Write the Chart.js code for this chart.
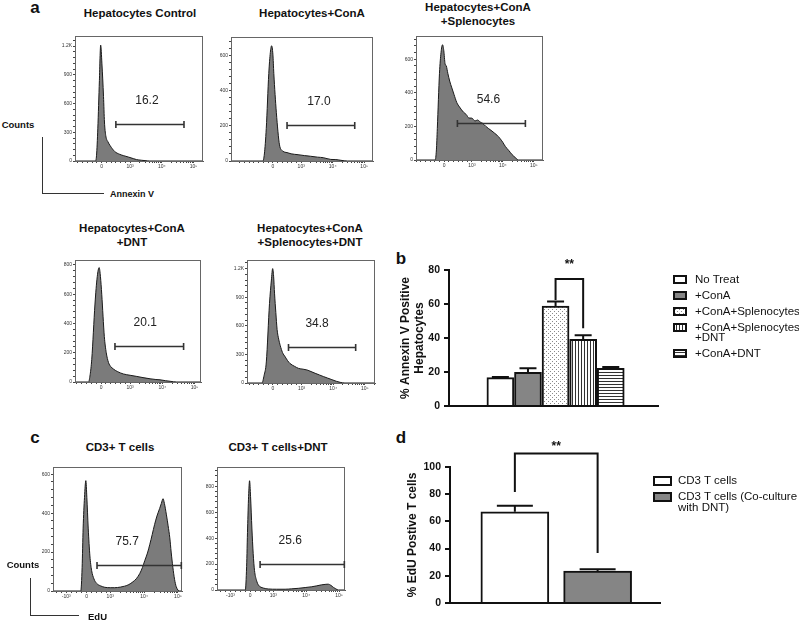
<!DOCTYPE html>
<html>
<head>
<meta charset="utf-8">
<script src="https://cdn.jsdelivr.net/npm/chart.js@4.4.1/dist/chart.umd.min.js"></script>
<style>
  body { margin: 0; background: #fff; }
  #fig { position: relative; width: 799px; height: 629px; overflow: hidden;
         font-family: "Liberation Sans", Arial, sans-serif; color: #111; }
  #fig canvas { position: absolute; }
  .t { position: absolute; transform: translate(-50%, -50%); white-space: nowrap;
       font-weight: bold; text-align: center; line-height: 14px; }
  .l { position: absolute; transform: translateY(-50%); white-space: nowrap; font-weight: bold; }
  .ln { position: absolute; background: #333; }
  .legend { position: absolute; font-size: 11.5px; line-height: 10px; white-space: nowrap; }
  .legend .row { display: flex; align-items: flex-start; margin-bottom: 6px; }
  #fig .legend canvas { position: static; flex: none; }
</style>
</head>
<body>
<div id="fig"></div>
<script>
const FONT = '"Liberation Sans", Arial, sans-serif';
Chart.defaults.font.family = FONT;

// ---- flow histograms (x in display channel units, y in counts) ----
const hepControlX = [-0.84, -0.2, -0.16, -0.12, -0.07, -0.03, 0.01, 0.06, 0.09, 0.13, 0.2, 0.27, 0.41, 0.57, 0.7, 0.84, 1.0, 1.1, 1.25, 1.37, 1.52, 3.2];
const hepControlY = [0, 0, 60, 336, 840, 1210, 1014, 674, 407, 267, 200, 160, 100, 70, 55, 42, 25, 15, 8, 4, 0, 0];

const hepConAX = [-1.33, -0.32, -0.27, -0.21, -0.13, -0.08, -0.04, 0.0, 0.03, 0.07, 0.11, 0.16, 0.21, 0.32, 0.45, 0.58, 0.8, 1.0, 1.2, 1.42, 1.6, 1.84, 2.0, 2.16, 2.37, 3.18];
const hepConAY = [0, 0, 40, 185, 500, 620, 658, 610, 500, 380, 278, 170, 92, 56, 48, 41, 36, 31, 27, 22, 19, 9, 8, 4, 0, 0];

const hepConASplX = [-0.91, -0.29, -0.25, -0.22, -0.15, -0.1, -0.05, -0.01, 0.03, 0.07, 0.12, 0.18, 0.25, 0.32, 0.41, 0.5, 0.63, 0.72, 0.8, 0.9, 1.0, 1.08, 1.17, 1.25, 1.35, 1.44, 1.55, 1.63, 1.71, 1.8, 1.9, 1.98, 2.1, 2.2, 2.3, 2.41, 3.2];
const hepConASplY = [0, 0, 60, 187, 516, 640, 686, 650, 574, 560, 516, 470, 429, 390, 342, 315, 284, 270, 250, 249, 232, 238, 226, 218, 200, 187, 172, 160, 148, 130, 105, 81, 55, 32, 15, 0, 0];

const hepConADntX = [-0.81, -0.39, -0.34, -0.29, -0.19, -0.12, -0.06, -0.02, 0.02, 0.06, 0.1, 0.16, 0.23, 0.3, 0.38, 0.5, 0.69, 0.9, 1.11, 1.3, 1.52, 1.7, 1.83, 2.0, 2.14, 2.35, 3.1];
const hepConADntY = [0, 0, 50, 155, 533, 720, 782, 720, 600, 450, 311, 200, 133, 105, 89, 72, 55, 46, 38, 30, 22, 17, 15, 9, 5, 0, 0];

const hepConASplDntX = [-0.82, -0.35, -0.28, -0.21, -0.11, -0.05, -0.01, 0.02, 0.05, 0.09, 0.13, 0.18, 0.23, 0.3, 0.39, 0.46, 0.54, 0.68, 0.81, 0.95, 1.07, 1.2, 1.33, 1.46, 1.59, 1.72, 1.86, 2.0, 2.12, 2.27, 3.22];
const hepConASplDntY = [0, 0, 80, 221, 833, 1080, 1200, 1120, 935, 740, 561, 460, 392, 320, 272, 235, 204, 175, 153, 145, 137, 120, 102, 85, 68, 52, 35, 18, 7, 0, 0];

const cd3X = [-0.99, -0.17, -0.13, -0.1, -0.06, -0.02, 0.01, 0.05, 0.1, 0.15, 0.22, 0.3, 0.42, 0.54, 0.7, 0.83, 1.0, 1.13, 1.25, 1.37, 1.47, 1.57, 1.65, 1.72, 1.8, 1.87, 1.94, 2.01, 2.08, 2.16, 2.21, 2.26, 2.3, 2.36, 2.41, 2.46, 2.5, 2.55, 2.6, 2.65, 2.75, 2.82];
const cd3Y = [0, 0, 120, 323, 480, 567, 480, 323, 180, 106, 62, 39, 26, 19, 17, 17, 20, 25, 33, 47, 63, 89, 120, 156, 195, 240, 290, 341, 385, 424, 450, 474, 450, 391, 335, 273, 200, 122, 60, 22, 0, 0];

const cd3DntX = [-1.01, -0.15, -0.11, -0.08, -0.05, -0.02, 0.01, 0.05, 0.09, 0.13, 0.19, 0.25, 0.4, 0.55, 0.8, 1.06, 1.26, 1.46, 1.67, 1.87, 2.02, 2.17, 2.3, 2.37, 2.45, 2.53, 2.6, 2.68, 2.88];
const cd3DntY = [0, 0, 180, 478, 720, 843, 720, 478, 280, 151, 75, 38, 15, 8, 6, 6, 9, 13, 19, 25, 32, 40, 44, 45, 36, 20, 9, 0, 0];

// axis labels of the histograms
const annexinTickPos = [0, 0.9, 1.9, 2.9];
const annexinTickLabels = ['0', '10³', '10⁴', '10⁵'];
const edUTickPos = [-0.6, 0, 0.7, 1.7, 2.7];
const edUTickLabels = ['-10³', '0', '10³', '10⁴', '10⁵'];

// gates
const annexinTitles = ['Hepatocytes Control', 'Hepatocytes+ConA', 'Hepatocytes+ConA<br>+Splenocytes', 'Hepatocytes+ConA<br>+DNT', 'Hepatocytes+ConA<br>+Splenocytes+DNT'];
const annexinGatePct = ['16.2', '17.0', '54.6', '20.1', '34.8'];
const annexinGateFrom = [0.45, 0.45, 0.43, 0.43, 0.49];
const annexinGateTo = [2.6, 2.6, 2.63, 2.56, 2.61];
const annexinGateLevel = [382, 203, 220, 245, 381];

const edUTitles = ['CD3+ T cells', 'CD3+ T cells+DNT'];
const edUGatePct = ['75.7', '25.6'];
const edUGateFrom = [0.31, 0.3];
const edUGateTo = [2.8, 2.86];
const edUGateLevel = [134, 202];

// ---- bar charts ----
const annexinGroups = ['No Treat', '+ConA', '+ConA+Splenocytes', '+ConA+Splenocytes\n+DNT', '+ConA+DNT'];
const annexinMean = [16.7, 19.8, 58.8, 39.2, 22.2];
const annexinErr = [0.4, 2.4, 2.6, 2.4, 0.8];
const annexinBracket = [62.4, 74.7, 45.7];   // left leg, top, right leg
const annexinTicks = [0, 20, 40, 60, 80];

const edUGroups = ['CD3 T cells', 'CD3 T cells (Co-culture\nwith DNT)'];
const edUMean = [67.1, 23.5];
const edUErr = [4.4, 1.3];
const edUBracket = [81.6, 110, 36.8];
const edUTicks = [0, 20, 40, 60, 80, 100];

const fig = document.getElementById('fig');

function addText(cls, html, x, y, size, extra) {
  const d = document.createElement('div');
  d.className = cls;
  d.innerHTML = html;
  d.style.left = x + 'px';
  d.style.top = y + 'px';
  d.style.fontSize = size + 'px';
  if (extra) Object.assign(d.style, extra);
  fig.appendChild(d);
}
function addLine(x, y, w, h) {
  const d = document.createElement('div');
  d.className = 'ln';
  Object.assign(d.style, { left: x + 'px', top: y + 'px', width: w + 'px', height: h + 'px' });
  fig.appendChild(d);
}

// minor ticks on the biexponential axis
function axisTicks(majors, lo, hi, linEnd) {
  const out = majors.slice();
  const near = v => majors.some(m => Math.abs(m - v) < 0.06);
  for (let v = -1.05; v < linEnd; v += 0.15) {
    if (v > lo && v < hi && !near(v)) out.push(v);
  }
  majors.filter(p => p >= linEnd).forEach(p => {
    for (let k = 2; k < 10; k++) {
      const v = p + Math.log10(k);
      if (v < hi) out.push(v);
    }
  });
  return out.sort((a, b) => a - b);
}

const histDeco = {
  id: 'histDeco',
  afterDraw(chart, args, o) {
    const ctx = chart.ctx, ca = chart.chartArea;
    const xs = chart.scales.x, ys = chart.scales.y;
    ctx.save();
    ctx.strokeStyle = '#666';
    ctx.lineWidth = 1;
    ctx.strokeRect(ca.left + 0.5, ca.top + 0.5, ca.width - 1, ca.height);
    const x1 = xs.getPixelForValue(o.from), x2 = xs.getPixelForValue(o.to);
    const y = Math.round(ys.getPixelForValue(o.level)) + 0.5;
    ctx.strokeStyle = '#333';
    ctx.lineWidth = 1.6;
    ctx.beginPath();
    ctx.moveTo(x1, y); ctx.lineTo(x2, y);
    ctx.moveTo(x1, y - 3.5); ctx.lineTo(x1, y + 3.5);
    ctx.moveTo(x2, y - 3.5); ctx.lineTo(x2, y + 3.5);
    ctx.stroke();
    ctx.fillStyle = '#222';
    ctx.font = '12px ' + FONT;
    ctx.textAlign = 'center';
    ctx.textBaseline = 'middle';
    ctx.fillText(o.text, (x1 + x2) / 2 + o.shift, y - 24);
    ctx.restore();
  }
};

function histChart(box, xs, ys, tickPos, tickLabels, linEnd, gate) {
  const cv = document.createElement('canvas');
  cv.width = box.r - box.l + 26;
  cv.height = box.b - box.t + 15;
  cv.style.left = (box.l - 24) + 'px';
  cv.style.top = (box.t - 1) + 'px';
  fig.appendChild(cv);
  const allTicks = axisTicks(tickPos, box.xMin, box.xMax, linEnd);
  const step = box.yStep;
  new Chart(cv, {
    type: 'line',
    data: {
      datasets: [{
        data: xs.map((x, i) => ({ x: x, y: ys[i] })),
        fill: 'origin',
        backgroundColor: '#7b7b7b',
        borderColor: '#1a1a1a',
        borderWidth: 1,
        pointRadius: 0,
        cubicInterpolationMode: 'monotone'
      }]
    },
    options: {
      responsive: false,
      animation: false,
      events: [],
      layout: { padding: { top: 1, right: 2, left: 0, bottom: 0 } },
      plugins: { legend: { display: false }, tooltip: { enabled: false }, histDeco: gate },
      scales: {
        x: {
          type: 'linear', min: box.xMin, max: box.xMax,
          afterBuildTicks: ax => { ax.ticks = allTicks.map(v => ({ value: v })); },
          afterFit: ax => { ax.height = 14; },
          ticks: {
            autoSkip: false, maxRotation: 0, padding: 1, color: '#333',
            font: { size: 5 },
            callback: v => { const k = tickPos.indexOf(v); return k < 0 ? '' : tickLabels[k]; }
          },
          grid: { drawOnChartArea: false, tickLength: 2, color: '#444' },
          border: { color: '#555', width: 1 }
        },
        y: {
          min: 0, max: box.yMax,
          afterFit: ax => { ax.width = 24; },
          ticks: {
            stepSize: step / 5, autoSkip: false, includeBounds: false, padding: 1, color: '#333',
            font: { size: 5 },
            callback: v => {
              if (Math.abs(v % step) > 1e-6) return '';
              return v >= 1000 ? (v / 1000) + 'K' : v;
            }
          },
          grid: { drawOnChartArea: false, tickLength: 2, color: '#444' },
          border: { color: '#555', width: 1 }
        }
      }
    },
    plugins: [histDeco]
  });
}

// panel a
const annexinBoxes = [
  { l: 75, t: 33, r: 203, b: 161, yMax: 1305, yStep: 300, xMin: -0.84, xMax: 3.2, shift: -3 },
  { l: 231, t: 34, r: 373, b: 161, yMax: 708, yStep: 200, xMin: -1.33, xMax: 3.18, shift: -2 },
  { l: 416, t: 33, r: 543, b: 160, yMax: 738, yStep: 200, xMin: -0.91, xMax: 3.2, shift: -3 },
  { l: 75, t: 257, r: 201, b: 382, yMax: 834, yStep: 200, xMin: -0.81, xMax: 3.1, shift: -4 },
  { l: 247, t: 257, r: 375, b: 383, yMax: 1290, yStep: 300, xMin: -0.82, xMax: 3.22, shift: -5 }
];
const annexinX = [hepControlX, hepConAX, hepConASplX, hepConADntX, hepConASplDntX];
const annexinY = [hepControlY, hepConAY, hepConASplY, hepConADntY, hepConASplDntY];
annexinBoxes.forEach((b, i) => {
  histChart(b, annexinX[i], annexinY[i], annexinTickPos, annexinTickLabels, 0.9, {
    from: annexinGateFrom[i], to: annexinGateTo[i], level: annexinGateLevel[i],
    text: annexinGatePct[i], shift: b.shift
  });
});
const annexinTitlePos = [[140, 13], [312, 13], [478, 14], [132, 235], [310, 235]];
annexinTitles.forEach((t, i) => addText('t', t, annexinTitlePos[i][0], annexinTitlePos[i][1], 11.5));

// panel c
const edUBoxes = [
  { l: 53, t: 464, r: 182, b: 591, yMax: 637, yStep: 200, xMin: -0.99, xMax: 2.82, shift: -12 },
  { l: 217, t: 464, r: 345, b: 590, yMax: 949, yStep: 200, xMin: -1.01, xMax: 2.88, shift: -12 }
];
const edUX = [cd3X, cd3DntX];
const edUY = [cd3Y, cd3DntY];
edUBoxes.forEach((b, i) => {
  histChart(b, edUX[i], edUY[i], edUTickPos, edUTickLabels, 0.7, {
    from: edUGateFrom[i], to: edUGateTo[i], level: edUGateLevel[i],
    text: edUGatePct[i], shift: b.shift
  });
});
const edUTitlePos = [[120, 447], [278, 447]];
edUTitles.forEach((t, i) => addText('t', t, edUTitlePos[i][0], edUTitlePos[i][1], 11.5));

// panel letters and axis keys
addText('t', 'a', 35, 8, 17);
addText('t', 'b', 401, 259, 17);
addText('t', 'c', 35, 438, 17);
addText('t', 'd', 401, 438, 17);

addText('t', 'Counts', 18, 125, 9.5);
addLine(42, 137, 1, 57);
addLine(42, 193, 62, 1);
addText('l', 'Annexin V', 110, 194, 9);

addText('t', 'Counts', 23, 565, 9.5);
addLine(30, 578, 1, 38);
addLine(30, 615, 49, 1);
addText('l', 'EdU', 88, 616, 9.5);

// ---- bar panels ----
function pattern(ctx, kind) {
  const c = document.createElement('canvas');
  const g = c.getContext('2d');
  if (kind === 'dots') {
    c.width = 4; c.height = 4;
    g.fillStyle = '#fff'; g.fillRect(0, 0, 4, 4);
    g.fillStyle = '#8a8a8a'; g.fillRect(0, 0, 1, 1); g.fillRect(2, 2, 1, 1);
  } else if (kind === 'vlines') {
    c.width = 3; c.height = 3;
    g.fillStyle = '#fff'; g.fillRect(0, 0, 3, 3);
    g.fillStyle = '#333'; g.fillRect(0, 0, 1, 3);
  } else if (kind === 'hlines') {
    c.width = 3; c.height = 3;
    g.fillStyle = '#fff'; g.fillRect(0, 0, 3, 3);
    g.fillStyle = '#333'; g.fillRect(0, 0, 3, 1);
  } else {
    c.width = 2; c.height = 2;
    g.fillStyle = kind; g.fillRect(0, 0, 2, 2);
  }
  return ctx.createPattern(c, 'repeat');
}

const barDeco = {
  id: 'barDeco',
  afterDatasetsDraw(chart, args, o) {
    const ctx = chart.ctx, ys = chart.scales.y;
    const bars = chart.getDatasetMeta(0).data;
    ctx.save();
    ctx.strokeStyle = '#111';
    ctx.lineWidth = 2;
    ctx.beginPath();
    bars.forEach((bar, i) => {
      const top = ys.getPixelForValue(o.mean[i] + o.err[i]);
      ctx.moveTo(bar.x, bar.y); ctx.lineTo(bar.x, top);
      ctx.moveTo(bar.x - o.cap / 2, top); ctx.lineTo(bar.x + o.cap / 2, top);
    });
    const a = bars[o.pair[0]].x, b = bars[o.pair[1]].x;
    const yTop = ys.getPixelForValue(o.bracket[1]);
    ctx.moveTo(a, ys.getPixelForValue(o.bracket[0]));
    ctx.lineTo(a, yTop); ctx.lineTo(b, yTop);
    ctx.lineTo(b, ys.getPixelForValue(o.bracket[2]));
    ctx.stroke();
    ctx.fillStyle = '#111';
    ctx.font = 'bold 12px ' + FONT;
    ctx.textAlign = 'center';
    ctx.textBaseline = 'middle';
    ctx.fillText('**', (a + b) / 2, yTop - o.starGap);
    ctx.restore();
  }
};

function barChart(pos, groups, mean, err, fills, ticks, title, deco) {
  const cv = document.createElement('canvas');
  cv.width = pos.w; cv.height = pos.h;
  cv.style.left = pos.x + 'px'; cv.style.top = pos.y + 'px';
  fig.appendChild(cv);
  const ctx = cv.getContext('2d');
  const fillList = fills.map(f => pattern(ctx, f));
  new Chart(cv, {
    type: 'bar',
    data: {
      labels: groups,
      datasets: [{
        data: mean.map((v, i) => ({ x: i, y: v })),
        backgroundColor: fillList,
        borderColor: '#111',
        borderWidth: 2,
        barThickness: pos.bar
      }]
    },
    options: {
      responsive: false,
      animation: false,
      events: [],
      layout: { padding: { top: pos.padTop, right: pos.padRight, left: 0, bottom: 0 } },
      plugins: { legend: { display: false }, tooltip: { enabled: false }, barDeco: deco },
      scales: {
        x: {
          type: 'linear', min: pos.xMin, max: pos.xMax,
          afterFit: ax => { ax.height = 12; },
          ticks: { display: false },
          grid: { display: false },
          border: { color: '#111', width: 2 }
        },
        y: {
          min: 0, max: ticks[ticks.length - 1],
          afterFit: ax => { ax.width = pos.yw; },
          afterBuildTicks: ax => { ax.ticks = ticks.map(v => ({ value: v })); },
          ticks: { color: '#111', padding: 4, font: { size: 10.5, weight: 'bold' } },
          grid: { drawOnChartArea: false, tickLength: 5, lineWidth: 2, color: '#111' },
          border: { color: '#111', width: 2 },
          title: { display: true, text: title, color: '#111', padding: { top: 0, bottom: 2 },
                   font: { size: 12, weight: 'bold' } }
        }
      }
    },
    plugins: [barDeco]
  });
  return fillList;
}

function legend(x, y, groups, fills, sw) {
  const box = document.createElement('div');
  box.className = 'legend';
  box.style.left = x + 'px';
  box.style.top = y + 'px';
  box.style.lineHeight = sw.lh + 'px';
  groups.forEach((g, i) => {
    const row = document.createElement('div');
    row.className = 'row';
    row.style.marginBottom = sw.rowGap + 'px';
    const c = document.createElement('canvas');
    c.width = sw.w; c.height = sw.h;
    c.style.marginTop = ((sw.lh - sw.h) / 2) + 'px';
    c.style.marginRight = sw.gap + 'px';
    const g2 = c.getContext('2d');
    g2.fillStyle = pattern(g2, fills[i]);
    g2.fillRect(0, 0, sw.w, sw.h);
    g2.strokeStyle = '#111';
    g2.lineWidth = 2;
    g2.strokeRect(1, 1, sw.w - 2, sw.h - 2);
    const s = document.createElement('span');
    s.innerHTML = g.replace('\n', '<br>');
    row.appendChild(c);
    row.appendChild(s);
    box.appendChild(row);
  });
  fig.appendChild(box);
}

const annexinFills = ['#ffffff', '#858585', 'dots', 'vlines', 'hlines'];
barChart({ x: 398, y: 255, w: 268, h: 163, padTop: 15, padRight: 8, yw: 51, bar: 27, xMin: -0.6, xMax: 4.45 },
  annexinGroups, annexinMean, annexinErr, annexinFills, annexinTicks,
  ['% Annexin V Positive', 'Hepatocytes'],
  { mean: annexinMean, err: annexinErr, cap: 17, pair: [2, 3], bracket: annexinBracket, starGap: 14 });
legend(673, 274, annexinGroups, annexinFills, { w: 14, h: 9, lh: 10, gap: 8, rowGap: 6 });

const edUFills = ['#ffffff', '#858585'];
barChart({ x: 405, y: 430, w: 261, h: 185, padTop: 37, padRight: 6, yw: 45, bar: 68, xMin: -0.53, xMax: 1.5 },
  edUGroups, edUMean, edUErr, edUFills, edUTicks,
  '% EdU Postive T cells',
  { mean: edUMean, err: edUErr, cap: 36, pair: [0, 1], bracket: edUBracket, starGap: 7 });
legend(653, 475, edUGroups, edUFills, { w: 19, h: 10, lh: 11, gap: 6, rowGap: 5 });
</script>
</body>
</html>
